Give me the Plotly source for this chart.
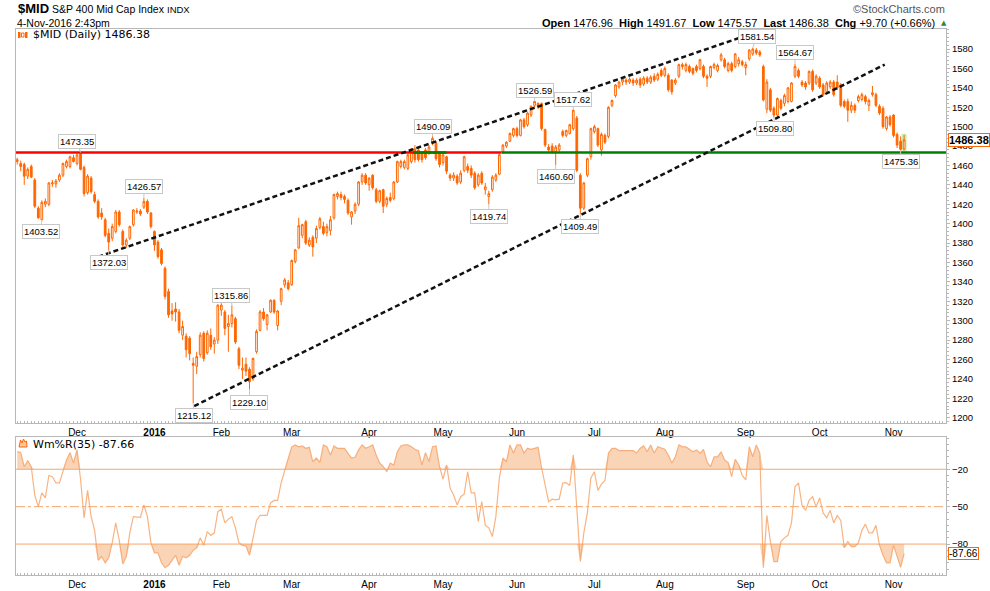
import pandas as pd
import plotly.graph_objects as go

# ---------------- data ----------------
holidays = ["2015-11-26", "2015-12-25", "2016-01-01", "2016-01-18", "2016-02-15",
            "2016-03-25", "2016-05-30", "2016-07-04", "2016-09-05"]
dates = [d for d in pd.bdate_range("2015-11-05", "2016-11-04")
         if d.strftime("%Y-%m-%d") not in holidays]

opens = [1464,1462,1461,1449,1459,1445,1416,1404,1420,1420,1441,1441,1445,1450,1459,1459,1468,1462,1472,1458,
         1432,1447,1430,1423,1411,1404,1390,1385,1392,1412,1392,1378,1385,1399,1412,1413,1417,1423,1411,1392,
         1381,1373,1354,1330,1310,1312,1309,1285,1284,1282,1256,1253,1265,1287,1267,1285,1276,1280,1311,1309,
         1294,1297,1302,1271,1249,1255,1250,1240,1268,1290,1309,1296,1309,1321,1295,1320,1337,1339,1337,1361,
         1375,1388,1402,1378,1386,1385,1396,1397,1391,1393,1406,1428,1430,1428,1424,1407,1413,1420,1443,1450,
         1440,1450,1435,1423,1435,1420,1427,1426,1443,1459,1458,1457,1464,1477,1476,1472,1476,1473,1483,1483,
         1472,1463,1469,1450,1447,1449,1443,1455,1459,1457,1452,1440,1452,1435,1428,1435,1445,1451,1474,1480,
         1485,1491,1498,1491,1507,1502,1512,1522,1524,1524,1497,1479,1480,1474,1476,1495,1491,1493,1498,1509,
         1450,1416,1450,1469,1495,1498,1476,1491,1490,1522,1532,1541,1546,1548,1546,1548,1545,1549,1544,1550,
         1546,1552,1549,1558,1553,1553,1548,1545,1552,1562,1558,1562,1560,1562,1560,1562,1552,1552,1561,1558,
         1569,1569,1558,1565,1562,1565,1567,1561,1570,1575,1579,1577,1562,1518,1538,1519,1512,1527,1524,1526,
         1526,1552,1558,1546,1545,1545,1557,1545,1550,1543,1536,1541,1546,1546,1543,1526,1526,1517,1522,1527,
         1528,1531,1522,1533,1533,1521,1519,1498,1510,1512,1492,1485,1476.96]
highs = [1468,1465,1463,1458,1461,1447,1418,1424,1426,1443,1445,1446,1452,1463,1466,1470,1471,1472,1473.35,1460,
         1451,1449,1433,1425,1416,1406,1395,1400,1414,1414,1394,1385,1398,1415,1416,1415,1426.57,1425,1412,1393,
         1383,1375,1356,1333,1318,1319,1312,1300,1287,1284,1262,1268,1288,1289,1290,1292,1283,1317,1318,1311,
         1306,1315.86,1304,1273,1262,1262,1252,1262,1291,1311,1313,1307,1322,1322,1311,1334,1344,1342,1363,1374,
         1406,1400,1404,1386,1388,1398,1407,1402,1400,1408,1431,1433,1433,1430,1426,1413,1422,1444,1452,1452,
         1448,1451,1437,1435,1436,1428,1432,1444,1465,1466,1466,1472,1478,1481,1479,1474,1478,1481,1490.09,1485,
         1474,1473,1470,1452,1453,1451,1455,1470,1462,1460,1454,1452,1454,1442,1434,1450,1452,1472,1482,1485,
         1494,1499,1500,1508,1509,1515,1522,1526.59,1525,1525,1498,1482,1483,1481,1483,1497,1497,1503,1517.62,1511,
         1452,1443,1468,1499,1502,1499,1494,1493,1521,1528,1544,1547,1551,1550,1551,1550,1550,1551,1552,1552,
         1553,1555,1556,1560,1562,1555,1549,1550,1565,1566,1566,1564,1561,1564,1570,1564,1554,1563,1566,1565,
         1576,1571,1567,1567,1576,1572,1569,1567,1580,1581.54,1581,1579,1564,1549,1540,1521,1530,1529,1534,1541,
         1546,1564.67,1560,1548,1547,1558,1559,1554,1552,1545,1547,1548,1548,1553,1545,1528,1529,1526,1524,1533,
         1535,1533,1529,1542,1535,1523,1521,1511,1512,1513,1494,1490,1491.67]
lows = [1461,1454,1440,1446,1447,1416,1405,1403.52,1417,1418,1438,1437,1443,1448,1457,1457,1463,1460,1455,1428,
        1430,1431,1421,1405,1404,1386,1372.03,1382,1390,1397,1376,1375,1383,1397,1410,1408,1415,1410,1395,1372,
        1364,1357,1322,1303,1300,1299,1287,1280,1262,1259,1215.12,1245,1262,1258,1265,1270,1266,1276,1305,1285,
        1268,1293,1276,1250,1240,1243,1229.10,1238,1266,1289,1300,1290,1308,1307,1290,1316,1334,1331,1336,1359,
        1374,1385,1378,1376,1366,1380,1394,1388,1387,1388,1404,1425,1424,1421,1409,1399,1410,1418,1440,1440,
        1434,1435,1421,1421,1411,1417,1422,1424,1442,1457,1456,1455,1462,1463,1464,1463,1466,1471,1481,1465,
        1458,1460,1451,1444,1444,1440,1441,1453,1452,1447,1435,1438,1440,1430,1419.74,1433,1443,1450,1472,1478,
        1484,1489,1489,1490,1498,1500,1510,1520,1518,1496,1479,1473,1472,1460.60,1474,1489,1489,1492,1496,1453,
        1409.49,1414,1448,1466,1493,1479,1470,1482,1488,1520,1530,1539,1543,1543,1544,1542,1543,1540,1542,1544,
        1544,1546,1547,1551,1551,1536,1533,1543,1550,1559,1556,1555,1553,1556,1558,1550,1541,1550,1559,1556,
        1567,1560,1556,1556,1560,1562,1562,1553,1568,1573,1574,1572,1526,1514,1515,1509.80,1510,1517,1521,1524,
        1525,1550,1550,1541,1538,1543,1536,1543,1539,1531,1534,1539,1531,1538,1520,1519,1505,1514,1514,1525,
        1526,1523,1516,1531,1520,1512,1498,1496,1500,1489,1478,1475.36,1475.57]
closes = [1466,1459,1449,1456,1448,1418,1406,1422,1423,1442,1442,1444,1450,1462,1464,1469,1464,1471,1456,1431,
          1449,1433,1423,1407,1407,1388,1381,1397,1412,1399,1378,1383,1397,1414,1413,1410,1423,1412,1397,1378,
          1366,1359,1325,1306,1307,1309,1290,1294,1270,1266,1254,1263,1285,1261,1287,1273,1280,1316,1316,1292,
          1297,1306,1278,1254,1251,1248,1237,1261,1289,1309,1302,1306,1321,1309,1310,1333,1342,1333,1362,1373,
          1398,1399,1380,1383,1376,1395,1405,1390,1397,1404,1430,1431,1427,1425,1411,1412,1420,1443,1450,1442,
          1447,1437,1423,1434,1418,1426,1424,1443,1464,1464,1464,1471,1477,1466,1466,1466,1468,1479,1488,1467,
          1461,1471,1454,1447,1450,1442,1452,1469,1455,1450,1437,1450,1442,1438,1431,1448,1450,1471,1481,1484,
          1493,1498,1491,1507,1500,1514,1521,1526,1521,1498,1481,1476,1474,1479,1481,1491,1496,1502,1517,1455,
          1416,1442,1467,1498,1500,1481,1492,1484,1520,1527,1543,1546,1549,1546,1549,1545,1548,1543,1550,1546,
          1551,1548,1554,1553,1560,1538,1536,1548,1564,1564,1564,1557,1555,1558,1569,1552,1550,1562,1564,1563,
          1574,1562,1565,1558,1575,1569,1564,1564,1579,1580,1576,1574,1527.5,1546,1517,1512,1529,1519,1532,1540,
          1545,1562,1552,1543,1541,1557,1538,1552,1541,1533,1545,1546,1533,1540,1522,1521,1517,1522,1517,1531,
          1533,1526,1527,1535,1522,1514,1500,1510,1502,1491,1481,1476.68,1486.38]
wmr = [-5.9,-6.5,-18,-13,-18,-41,-50,-39,-43,-25,-26,-31,-31,-21,-12.5,-6.7,-15,-4.5,-28,-59,
       -37,-58,-69,-93,-90,-95,-91,-79,-63,-77,-96,-90,-71,-58,-58,-58.5,-48.6,-58,-79,-87,
       -87,-95,-99,-97,-93,-89,-97,-90,-91,-89,-85,-83,-75,-81,-70,-73,-71,-54,-52,-63,
       -60,-58,-67,-79,-81,-81.5,-89,-75,-61,-57,-57,-57,-47,-45,-45,-31,-21,-11,-2,-0.5,
       -2,-1.3,-3.2,-2.4,-14,-11,-14.4,-0.5,-1.9,-8.5,-1.3,-3.2,-3.2,-3.2,-7.2,-11,-10.4,-4.5,-0.5,-3.2,
       -1.9,-0.5,-8.5,-15,-18,-22,-15,-16.6,-5.9,-1.3,-0.5,-0.5,-1.9,-4,-5.1,-16.6,-6.7,-13.9,-1.9,-1.3,
       -17.9,-28,-16.6,-35,-40.6,-48.6,-42,-40,-22,-39,-39,-62,-46,-65,-67,-74,-58,-27,-11,-14,
       -0.5,-7,-0.5,-0.5,-7,-3.2,-4,-3.2,-2.4,-19,-34,-46,-44,-44.6,-44,-31,-30.7,-33,-8.5,-55,
       -94,-71,-55,-27,-22,-37,-32,-29,-7,-3.2,-3.2,-5,-5,-5,-5,-5,-7,-3.2,-1.3,-6,
       -0.5,-7,-2,-3.2,-4,-8.5,-15,-10,-0.5,-2,-2,-4,-6,-4.5,-7,-4,-14,-18,-10,-10,
       -6,-12.5,-14.7,-26,-12,-16.6,-25,-28.6,-2,-10,-0.5,-7,-99,-57,-78,-94,-94,-78,-75,-73,
       -63,-34,-31,-49,-53,-45,-42,-50,-43,-55,-59,-53,-63,-57,-61,-83,-78,-82,-82,-79,
       -69,-64,-71,-71,-65,-81,-89,-95,-95,-81,-90,-98.6,-87.66]

# labelled highs / lows: (bar index, value, box offset x px, box offset y px)
ann_idx = [18, 7, 36, 26, 50, 61, 66, 118, 134, 147, 158, 153, 160, 209, 221, 215, 251]
ann_val = [1473.35, 1403.52, 1426.57, 1372.03, 1215.12, 1315.86, 1229.10, 1490.09, 1419.74,
           1526.59, 1517.62, 1460.60, 1409.49, 1581.54, 1564.67, 1509.80, 1475.36]
ann_dx = [-4, -1, 0, 0, 1, -1, 0, 0, 0, 0, 0, 0, 0, 4, 0, 1, 0]
ann_dy = [-11, 11, -11, 12, 12, -10, 13, -10, 12, -10, -10, 12, 12, -11, -11, 11, 11]

# trendlines (bar index, price)
upper_line = [(20.9, 1363.3), (213.0, 1601.2)]
lower_line = [(50.3, 1212.0), (246.5, 1564.0)]
resistance = 1473.35

n = len(dates)
assert n == len(opens) == len(highs) == len(lows) == len(closes) == len(wmr) == 253
x = list(range(n))

# month ticks
tickvals, ticktext = [], []
for i in range(1, n):
    if dates[i].month != dates[i - 1].month:
        tickvals.append(i)
        ticktext.append("<b>2016</b>" if dates[i].month == 1 else dates[i].strftime("%b"))

ORANGE = "#ff6600"
W, H = 990, 591
L, R, T, B = 16, 44, 29, 16
PW, PH = W - L - R, H - T - B


def px(v):
    return (v - L) / PW


def py(v):
    return (H - B - v) / PH


fig = go.Figure()

fig.add_trace(go.Candlestick(
    x=x, open=opens, high=highs, low=lows, close=closes,
    increasing=dict(line=dict(color=ORANGE, width=1), fillcolor="white"),
    decreasing=dict(line=dict(color=ORANGE, width=1), fillcolor=ORANGE),
    whiskerwidth=0, xaxis="x", yaxis="y", showlegend=False, hoverinfo="skip"))

# Williams %R panel
upper_fill = [max(v, -20) for v in wmr]
lower_fill = [min(v, -80) for v in wmr]
FILL = "rgba(245,170,110,0.5)"
fig.add_trace(go.Scatter(x=x, y=[-20] * n, mode="lines", line=dict(width=0),
                         xaxis="x2", yaxis="y2", showlegend=False, hoverinfo="skip"))
fig.add_trace(go.Scatter(x=x, y=upper_fill, mode="lines", line=dict(width=0), fill="tonexty",
                         fillcolor=FILL, xaxis="x2", yaxis="y2", showlegend=False, hoverinfo="skip"))
fig.add_trace(go.Scatter(x=x, y=[-80] * n, mode="lines", line=dict(width=0),
                         xaxis="x2", yaxis="y2", showlegend=False, hoverinfo="skip"))
fig.add_trace(go.Scatter(x=x, y=lower_fill, mode="lines", line=dict(width=0), fill="tonexty",
                         fillcolor=FILL, xaxis="x2", yaxis="y2", showlegend=False, hoverinfo="skip"))
fig.add_trace(go.Scatter(x=x, y=wmr, mode="lines", line=dict(color="rgba(246,160,100,0.8)", width=1.2),
                         xaxis="x2", yaxis="y2", showlegend=False, hoverinfo="skip"))

shapes = []
LINEC = "#f7a56b"
for lv, dash in [(-20, "solid"), (-80, "solid"), (-50, "dashdot")]:
    shapes.append(dict(type="line", xref="x2 domain", yref="y2", x0=0, x1=1, y0=lv, y1=lv,
                       line=dict(color=LINEC, width=1, dash=dash), layer="below"))

# horizontal support / resistance
shapes.append(dict(type="line", xref="x", yref="y", x0=137.6, x1=264, y0=resistance, y1=resistance,
                   line=dict(color="#008000", width=2.5)))
shapes.append(dict(type="line", xref="x", yref="y", x0=-1, x1=137.6, y0=resistance, y1=resistance,
                   line=dict(color="#ff0000", width=2.5)))
shapes.append(dict(type="line", xref="x", yref="y", x0=112.5, x1=122, y0=resistance, y1=resistance,
                   line=dict(color="#008000", width=2.5)))
# trend channel
for (a, b) in [upper_line, lower_line]:
    shapes.append(dict(type="line", xref="x", yref="y", x0=a[0], y0=a[1], x1=b[0], y1=b[1],
                       line=dict(color="#111111", width=2.5, dash="5px,3px")))
# highlight last bar
shapes.append(dict(type="rect", xref="x", yref="y", x0=n - 1.7, x1=n - 0.3, y0=lows[-1] - 1.5,
                   y1=highs[-1] + 1, fillcolor="#c6f0b0", line=dict(width=0), layer="below"))

# small icons
shapes.append(dict(type="rect", xref="paper", yref="paper", x0=px(18), x1=px(20.5), y0=py(38), y1=py(32),
                   fillcolor=ORANGE, line=dict(width=0)))
shapes.append(dict(type="rect", xref="paper", yref="paper", x0=px(21.5), x1=px(24), y0=py(37), y1=py(33),
                   fillcolor="white", line=dict(color=ORANGE, width=1)))
shapes.append(dict(type="rect", xref="paper", yref="paper", x0=px(25), x1=px(27.5), y0=py(38), y1=py(32),
                   fillcolor=ORANGE, line=dict(width=0)))
flame = "M {} {} L {} {} L {} {} L {} {} L {} {} L {} {} L {} {} Z".format(
    px(19), py(447), px(20.5), py(440), px(22), py(443), px(23.5), py(439), px(25), py(442),
    px(26.5), py(441), px(27), py(447))
shapes.append(dict(type="path", xref="paper", yref="paper", path=flame,
                   fillcolor="#f8c8a0", line=dict(color=ORANGE, width=1)))

annotations = []
for i, v, dx, dy in zip(ann_idx, ann_val, ann_dx, ann_dy):
    annotations.append(dict(x=i, y=v, xref="x", yref="y", text=f"{v:.2f}", showarrow=True,
                            arrowhead=0, arrowwidth=1, arrowcolor="#c8c8c8", ax=dx, ay=dy,
                            font=dict(family="Liberation Sans", size=9.5, color="#000"),
                            bgcolor="white", bordercolor="#c8c8c8", borderwidth=1, borderpad=1))

TXT = dict(family="Liberation Sans", color="#000")
annotations += [
    dict(x=px(16), y=py(9), xref="paper", yref="paper", xanchor="left", yanchor="middle",
         text="<b>$MID</b>", showarrow=False, font=dict(TXT, size=13)),
    dict(x=px(50), y=py(9.5), xref="paper", yref="paper", xanchor="left", yanchor="middle",
         text="S&P 400 Mid Cap Index", showarrow=False, font=dict(TXT, size=10.5)),
    dict(x=px(165), y=py(9.5), xref="paper", yref="paper", xanchor="left", yanchor="middle",
         text="INDX", showarrow=False, font=dict(TXT, size=9.5)),
    dict(x=px(15), y=py(22.5), xref="paper", yref="paper", xanchor="left", yanchor="middle",
         text="4-Nov-2016 2:43pm", showarrow=False, font=dict(TXT, size=10.5)),
    dict(x=px(947), y=py(9), xref="paper", yref="paper", xanchor="right", yanchor="middle",
         text="\u00a9StockCharts.com", showarrow=False, font=dict(family="Liberation Sans", size=11, color="#555")),
    dict(x=px(937), y=py(22.5), xref="paper", yref="paper", xanchor="right", yanchor="middle",
         text="<b>Open</b> 1476.96&nbsp; <b>High</b> 1491.67&nbsp; <b>Low</b> 1475.57&nbsp; "
              "<b>Last</b> 1486.38&nbsp; <b>Chg</b> +9.70 (+0.66%)",
         showarrow=False, font=dict(TXT, size=11)),
    dict(x=px(944), y=py(22.5), xref="paper", yref="paper", xanchor="center", yanchor="middle",
         text="\u25b2", showarrow=False, font=dict(family="DejaVu Sans", size=7, color="#2e8b2e")),
    dict(x=px(31), y=py(35), xref="paper", yref="paper", xanchor="left", yanchor="middle",
         text="$MID (Daily) 1486.38", showarrow=False, font=dict(family="DejaVu Sans", size=11, color="#000")),
    dict(x=px(31), y=py(444), xref="paper", yref="paper", xanchor="left", yanchor="middle",
         text="Wm%R(35) -87.66", showarrow=False, font=dict(family="DejaVu Sans", size=11, color="#000")),
    dict(x=px(948), y=closes[-1], xref="paper", yref="y", xanchor="left", yanchor="middle",
         text="<b>1486.38</b>", showarrow=False, font=dict(TXT, size=11),
         bgcolor="white", bordercolor=ORANGE, borderwidth=1, borderpad=0),
    dict(x=px(948), y=wmr[-1], xref="paper", yref="y2", xanchor="left", yanchor="middle",
         text="-87.66", showarrow=False, font=dict(TXT, size=10),
         bgcolor="white", bordercolor=ORANGE, borderwidth=1, borderpad=0),
]

AX = dict(showline=True, mirror=True, linecolor="#b8b8b8", linewidth=1, zeroline=False,
          showgrid=False, automargin=False)
XR = [-0.34, 263.9]
fig.update_layout(
    template="none",
    width=W, height=H, margin=dict(l=L, r=R, t=T, b=B, autoexpand=False),
    paper_bgcolor="white", plot_bgcolor="white", showlegend=False,
    xaxis=dict(AX, domain=[0, 1], range=XR, anchor="y", tickvals=tickvals, ticktext=ticktext,
               ticks="", tickfont=dict(family="Liberation Sans", size=10, color="#000"),
               rangeslider=dict(visible=False),
               minor=dict(dtick=1, tick0=0, ticks="inside", ticklen=2, tickcolor="#b8b8b8")),
    yaxis=dict(AX, domain=[(575 - 423) / PH, 1], range=[1194.5, 1600.7], side="right",
               tickvals=list(range(1200, 1600, 20)), ticks="outside", ticklen=3, tickcolor="#b8b8b8",
               tickfont=dict(family="Liberation Sans", size=9.5, color="#000"),
               minor=dict(dtick=4, ticks="outside", ticklen=2, tickcolor="#b8b8b8")),
    xaxis2=dict(AX, domain=[0, 1], range=XR, anchor="y2", tickvals=tickvals, ticktext=ticktext,
                ticks="", tickfont=dict(family="Liberation Sans", size=10, color="#000"),
                minor=dict(dtick=1, tick0=0, ticks="inside", ticklen=2, tickcolor="#b8b8b8")),
    yaxis2=dict(AX, domain=[0, (575 - 436.7) / PH], range=[-104.8, 6.1], side="right", anchor="x2",
                tickvals=[-20, -50, -80], ticks="outside", ticklen=3, tickcolor="#b8b8b8",
                tickfont=dict(family="Liberation Sans", size=9.5, color="#000"),
                minor=dict(dtick=5, ticks="outside", ticklen=2, tickcolor="#b8b8b8")),
    shapes=shapes, annotations=annotations,
)

fig.write_html("out.html")
